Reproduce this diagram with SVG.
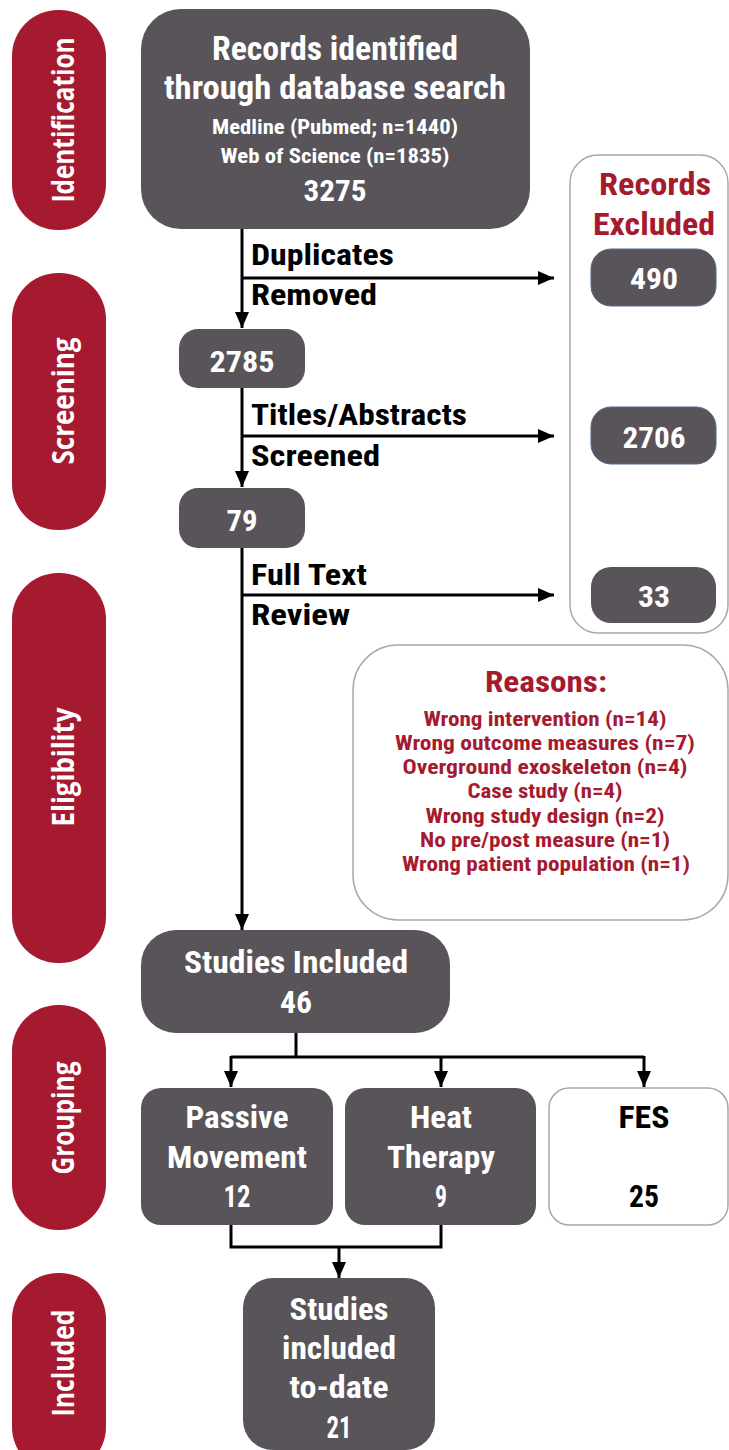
<svg xmlns="http://www.w3.org/2000/svg" width="729" height="1450" viewBox="0 0 729 1450">
<style>
.pill{fill:#a51a2f}
.dark{fill:#58545a}
.t{font-family:"Roboto Condensed","Liberation Sans Narrow","Roboto","Liberation Sans",sans-serif;font-weight:bold;text-anchor:middle}
.w{fill:#ffffff}
.r{fill:#a51a2f}
.k{fill:#000000}
.lbl{font-family:"Roboto Condensed","Liberation Sans Narrow","Roboto","Liberation Sans",sans-serif;font-weight:bold;fill:#000;font-size:30px}
.side{font-family:"Open Sans","Liberation Sans",sans-serif;font-weight:bold;fill:#fff;font-size:31px;text-anchor:middle}
.ln{fill:none;stroke:#000;stroke-width:3}
.outl{fill:#fff;stroke:#a9a9a9;stroke-width:1.5}
</style>
<defs>
<marker id="ah" markerUnits="userSpaceOnUse" viewBox="0 0 16 14" refX="16" refY="7" markerWidth="16" markerHeight="14" orient="auto">
<path d="M0,0 L16,7 L0,14 z" fill="#000"/>
</marker>
</defs>

<g id="stage-identification">
<rect class="pill" x="12" y="10" width="94" height="220" rx="46"/>
<text class="side" transform="translate(74,120) rotate(-90)" textLength="165" lengthAdjust="spacingAndGlyphs">Identification</text>
</g>
<g id="stage-screening">
<rect class="pill" x="12" y="273" width="94" height="257" rx="46"/>
<text class="side" transform="translate(74,401) rotate(-90)" textLength="127" lengthAdjust="spacingAndGlyphs">Screening</text>
</g>
<g id="stage-eligibility">
<rect class="pill" x="12" y="573" width="94" height="390" rx="46"/>
<text class="side" transform="translate(74,767) rotate(-90)" textLength="119" lengthAdjust="spacingAndGlyphs">Eligibility</text>
</g>
<g id="stage-grouping">
<rect class="pill" x="12" y="1005" width="94" height="225" rx="46"/>
<text class="side" transform="translate(74,1118) rotate(-90)" textLength="113" lengthAdjust="spacingAndGlyphs">Grouping</text>
</g>
<g id="stage-included">
<rect class="pill" x="12" y="1273" width="94" height="200" rx="46"/>
<text class="side" transform="translate(74,1363) rotate(-90)" textLength="107" lengthAdjust="spacingAndGlyphs">Included</text>
</g>

<g id="connectors">
<line class="ln" x1="242" y1="229" x2="242" y2="328" marker-end="url(#ah)"/>
<line class="ln" x1="242" y1="278" x2="554" y2="278" marker-end="url(#ah)"/>
<line class="ln" x1="242" y1="388" x2="242" y2="487" marker-end="url(#ah)"/>
<line class="ln" x1="242" y1="436" x2="554" y2="436" marker-end="url(#ah)"/>
<line class="ln" x1="242" y1="548" x2="242" y2="930" marker-end="url(#ah)"/>
<line class="ln" x1="242" y1="595" x2="554" y2="595" marker-end="url(#ah)"/>
<path class="ln" d="M296,1033 V1057 M231,1057 H644"/>
<line class="ln" x1="231" y1="1056" x2="231" y2="1087" marker-end="url(#ah)"/>
<line class="ln" x1="441" y1="1056" x2="441" y2="1087" marker-end="url(#ah)"/>
<line class="ln" x1="644" y1="1056" x2="644" y2="1087" marker-end="url(#ah)"/>
<path class="ln" d="M231,1225 V1247 H441 V1225"/>
<line class="ln" x1="339" y1="1247" x2="339" y2="1278" marker-end="url(#ah)"/>
<text class="lbl" x="251" y="265" textLength="143" lengthAdjust="spacingAndGlyphs">Duplicates</text>
<text class="lbl" x="251" y="305" textLength="126" lengthAdjust="spacingAndGlyphs">Removed</text>
<text class="lbl" x="251" y="425" textLength="216" lengthAdjust="spacingAndGlyphs">Titles/Abstracts</text>
<text class="lbl" x="251" y="466" textLength="129" lengthAdjust="spacingAndGlyphs">Screened</text>
<text class="lbl" x="251" y="585" textLength="116" lengthAdjust="spacingAndGlyphs">Full Text</text>
<text class="lbl" x="251" y="625" textLength="99" lengthAdjust="spacingAndGlyphs">Review</text>
</g>

<g id="records-identified">
<rect class="dark" x="141" y="9" width="389" height="220" rx="40"/>
<text class="t w" x="335" y="60" font-size="34" textLength="246" lengthAdjust="spacingAndGlyphs">Records identified</text>
<text class="t w" x="335" y="99" font-size="34" textLength="342" lengthAdjust="spacingAndGlyphs">through database search</text>
<text class="t w" x="335" y="134" font-size="21" textLength="246" lengthAdjust="spacingAndGlyphs">Medline (Pubmed; n=1440)</text>
<text class="t w" x="335" y="163" font-size="21" textLength="229" lengthAdjust="spacingAndGlyphs">Web of Science (n=1835)</text>
<text class="t w" x="335" y="201" font-size="30" textLength="63" lengthAdjust="spacingAndGlyphs">3275</text>
</g>

<g id="records-excluded">
<rect class="outl" x="570" y="155" width="158" height="478" rx="28"/>
<text class="t r" x="655" y="195" font-size="32" textLength="112" lengthAdjust="spacingAndGlyphs">Records</text>
<text class="t r" x="654" y="235" font-size="32" textLength="122" lengthAdjust="spacingAndGlyphs">Excluded</text>
</g>
<g id="excluded-490">
<rect class="dark" x="591" y="249" width="125" height="57" rx="20" stroke="#4d6a94" stroke-width="1"/>
<text class="t w" x="654" y="289" font-size="30" textLength="48" lengthAdjust="spacingAndGlyphs">490</text>
</g>
<g id="excluded-2706">
<rect class="dark" x="591" y="407" width="125" height="57" rx="20" stroke="#4d6a94" stroke-width="1"/>
<text class="t w" x="654" y="448" font-size="30" textLength="63" lengthAdjust="spacingAndGlyphs">2706</text>
</g>
<g id="excluded-33">
<rect class="dark" x="591" y="567" width="125" height="56" rx="20"/>
<text class="t w" x="654" y="607" font-size="30" textLength="32" lengthAdjust="spacingAndGlyphs">33</text>
</g>

<g id="after-duplicates">
<rect class="dark" x="179" y="329" width="126" height="59" rx="19"/>
<text class="t w" x="242" y="372" font-size="30" textLength="65" lengthAdjust="spacingAndGlyphs">2785</text>
</g>
<g id="after-screening">
<rect class="dark" x="179" y="488" width="126" height="60" rx="19"/>
<text class="t w" x="242" y="531" font-size="30" textLength="31" lengthAdjust="spacingAndGlyphs">79</text>
</g>

<g id="reasons">
<rect class="outl" x="353" y="645" width="375" height="275" rx="45"/>
<text class="t r" x="546" y="692" font-size="30" textLength="122" lengthAdjust="spacingAndGlyphs">Reasons:</text>
<text class="t r" x="545" y="726" font-size="20" textLength="243" lengthAdjust="spacingAndGlyphs">Wrong intervention (n=14)</text>
<text class="t r" x="545" y="750" font-size="20" textLength="300" lengthAdjust="spacingAndGlyphs">Wrong outcome measures (n=7)</text>
<text class="t r" x="545" y="774" font-size="20" textLength="285" lengthAdjust="spacingAndGlyphs">Overground exoskeleton (n=4)</text>
<text class="t r" x="545" y="798" font-size="20" textLength="155" lengthAdjust="spacingAndGlyphs">Case study (n=4)</text>
<text class="t r" x="545" y="823" font-size="20" textLength="239" lengthAdjust="spacingAndGlyphs">Wrong study design (n=2)</text>
<text class="t r" x="545" y="847" font-size="20" textLength="250" lengthAdjust="spacingAndGlyphs">No pre/post measure (n=1)</text>
<text class="t r" x="546" y="871" font-size="20" textLength="288" lengthAdjust="spacingAndGlyphs">Wrong patient population (n=1)</text>
</g>

<g id="studies-included">
<rect class="dark" x="141" y="930" width="309" height="103" rx="35"/>
<text class="t w" x="296" y="973" font-size="31" textLength="224" lengthAdjust="spacingAndGlyphs">Studies Included</text>
<text class="t w" x="296" y="1013" font-size="31" textLength="32" lengthAdjust="spacingAndGlyphs">46</text>
</g>

<g id="passive-movement">
<rect class="dark" x="141" y="1088" width="192" height="137" rx="20"/>
<text class="t w" x="237" y="1128" font-size="31" textLength="103" lengthAdjust="spacingAndGlyphs">Passive</text>
<text class="t w" x="237" y="1168" font-size="31" textLength="140" lengthAdjust="spacingAndGlyphs">Movement</text>
<text class="t w" x="237" y="1207" font-size="31" textLength="27" lengthAdjust="spacingAndGlyphs">12</text>
</g>
<g id="heat-therapy">
<rect class="dark" x="345" y="1088" width="191" height="137" rx="20"/>
<text class="t w" x="441" y="1128" font-size="31" textLength="62" lengthAdjust="spacingAndGlyphs">Heat</text>
<text class="t w" x="441" y="1168" font-size="31" textLength="108" lengthAdjust="spacingAndGlyphs">Therapy</text>
<text class="t w" x="441" y="1207" font-size="31" textLength="12" lengthAdjust="spacingAndGlyphs">9</text>
</g>
<g id="fes">
<rect class="outl" x="549" y="1088" width="179" height="137" rx="20"/>
<text class="t k" x="644" y="1128" font-size="31" textLength="51" lengthAdjust="spacingAndGlyphs">FES</text>
<text class="t k" x="644" y="1207" font-size="31" textLength="30" lengthAdjust="spacingAndGlyphs">25</text>
</g>

<g id="studies-to-date">
<rect class="dark" x="243" y="1278" width="192" height="172" rx="30"/>
<text class="t w" x="339" y="1320" font-size="31" textLength="99" lengthAdjust="spacingAndGlyphs">Studies</text>
<text class="t w" x="339" y="1359" font-size="31" textLength="114" lengthAdjust="spacingAndGlyphs">included</text>
<text class="t w" x="339" y="1398" font-size="31" textLength="99" lengthAdjust="spacingAndGlyphs">to-date</text>
<text class="t w" x="339" y="1438" font-size="31" textLength="25" lengthAdjust="spacingAndGlyphs">21</text>
</g>
</svg>
